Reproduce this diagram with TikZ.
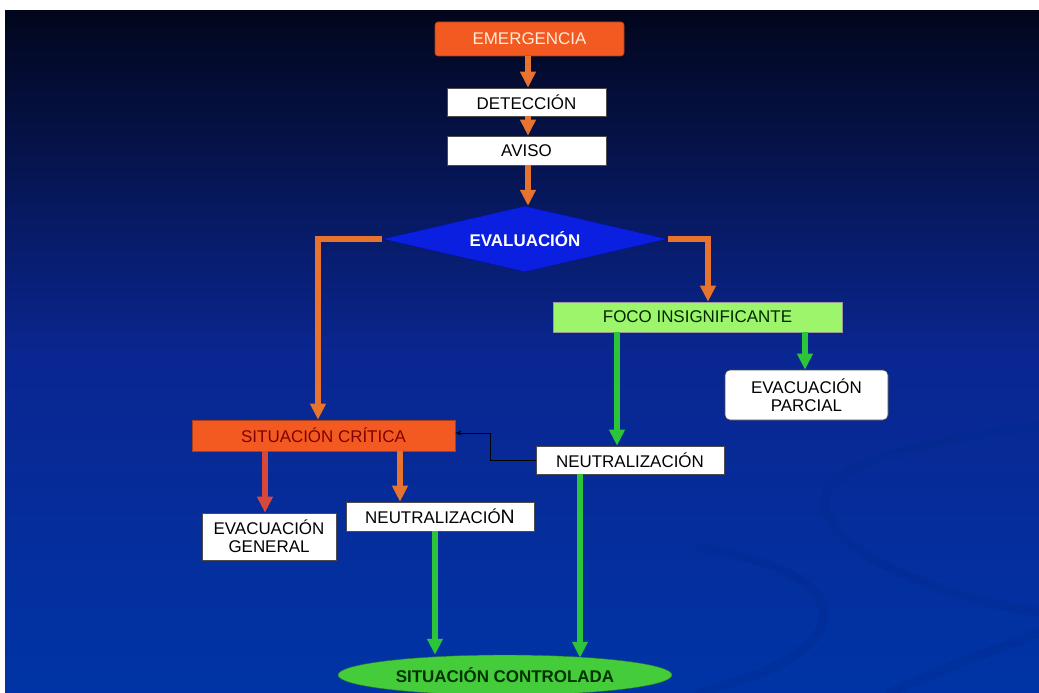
\documentclass[tikz,border=0pt]{standalone}
\usepackage{fontspec}
\setmainfont{Liberation Sans}
\usetikzlibrary{arrows.meta,shapes.geometric,calc}
\definecolor{bgtop}{HTML}{02061C}
\definecolor{bgmid}{HTML}{0A2690}
\definecolor{bgbot}{HTML}{0034A6}
\definecolor{orgfill}{HTML}{F25A22}
\definecolor{orgarrow}{HTML}{E8732E}
\definecolor{redarrow}{HTML}{D8483A}
\definecolor{grnarrow}{HTML}{2BC43A}
\definecolor{focofill}{HTML}{9CF56A}
\definecolor{evalfill}{HTML}{0A1FE0}
\definecolor{ctrlfill}{HTML}{45CC3A}
\definecolor{swoosh}{HTML}{002A8C}
\begin{document}
\begin{tikzpicture}[x=1bp,y=-1bp,
  box/.style={draw=black!70,line width=0.6pt,fill=white,inner sep=0pt,align=center,font=\fontsize{17}{18}\selectfont},
  flow/.style={line width=5.5bp,-{Triangle[width=15bp,length=16bp]},draw=orgarrow},
  gflow/.style={flow,draw=grnarrow},
  rflow/.style={flow,draw=redarrow},
  thin/.style={line width=1bp,-{Stealth[length=6bp,width=5bp]},draw=black}]
\useasboundingbox (0,0) rectangle (1039,693);
\fill[white] (0,0) rectangle (1039,693);
\shade[top color=bgtop,bottom color=bgbot,middle color=bgmid] (5,11) rectangle (1039,693);
% decorative swooshes
\begin{scope}[swoosh,opacity=0.3,line width=9bp,line cap=round]
\draw (1039,425) .. controls (900,445) and (800,470) .. (830,520) .. controls (850,560) and (950,600) .. (1039,612);
\draw (700,548) .. controls (780,560) and (840,590) .. (820,630) .. controls (800,665) and (740,680) .. (700,693);
\draw (890,693) .. controls (950,665) and (1000,648) .. (1039,632);
\end{scope}
% nodes
\node[box,draw=orgfill!70!black,fill=orgfill,rounded corners=3bp,minimum width=189bp,minimum height=34bp,text=orange!15] (emer) at (529.5,39) {EMERGENCIA};
\node[box,minimum width=159bp,minimum height=28bp] (det) at (526.5,102) {DETECCIÓN};
\node[box,minimum width=159bp,minimum height=29bp] (avi) at (526.5,150.5) {AVISO};
\node[diamond,draw=evalfill!60!black,fill=evalfill,aspect=4.3,inner sep=0pt,minimum width=285bp,minimum height=66bp,text=white,font=\bfseries\fontsize{17}{18}\selectfont] (eval) at (525,239) {EVALUACIÓN};
\node[box,draw=black!40,fill=focofill,minimum width=289bp,minimum height=30bp,text=black!85!green] (foco) at (697.5,317) {FOCO INSIGNIFICANTE};
\node[box,rounded corners=5bp,minimum width=163bp,minimum height=50bp] (parc) at (806.5,395) {EVACUACIÓN\\PARCIAL};
\node[box,minimum width=188bp,minimum height=28bp] (neutR) at (630,460) {NEUTRALIZACIÓN};
\node[box,draw=orgfill!70!black,fill=orgfill,minimum width=263bp,minimum height=31bp,text=red!50!black] (sc) at (323.5,435.5) {SITUACIÓN CRÍTICA};
\node[box,minimum width=134bp,minimum height=47bp] (gen) at (269,536.5) {EVACUACIÓN\\GENERAL};
\node[box,minimum width=188bp,minimum height=29bp] (neutL) at (440,516.5) {NEUTRALIZACIÓ{\fontsize{19.5}{18}\selectfont N}};
\node[ellipse,draw=ctrlfill!60!black,fill=ctrlfill,inner sep=0pt,minimum width=334bp,minimum height=40bp,text=green!20!black,font=\bfseries\fontsize{17}{18}\selectfont] (ctrl) at (505,675) {SITUACIÓN CONTROLADA};
% connectors
\draw[flow] (emer.south -| 528,0) -- (det.north -| 528,0);
\draw[flow] (det.south -| 528,0) -- (avi.north -| 528,0);
\draw[flow] (avi.south -| 528,0) -- (eval.north -| 528,0);
\coordinate (lc) at (318,239);
\coordinate (rc) at (708,239);
\draw[flow] (eval.west) -- (lc) -- (lc |- sc.north);
\draw[flow] (eval.east) -- (rc) -- (rc |- foco.north);
\draw[gflow] (foco.south -| 805,0) -- (parc.north -| 805,0);
\draw[gflow] (foco.south -| 617,0) -- (neutR.north -| 617,0);
\coordinate (bend) at (490,433);
\draw[thin] (neutR.west) -| (bend) -- (bend -| sc.east);
\draw[rflow] (sc.south -| 265,0) -- (gen.north -| 265,0);
\draw[flow] (sc.south -| 400,0) -- (neutL.north -| 400,0);
\draw[gflow] (neutL.south -| 435,0) -- (ctrl.north -| 435,0);
\draw[gflow] (neutR.south -| 580,0) -- ($(ctrl.north -| 580,0)+(0,3)$);
\end{tikzpicture}
\end{document}
